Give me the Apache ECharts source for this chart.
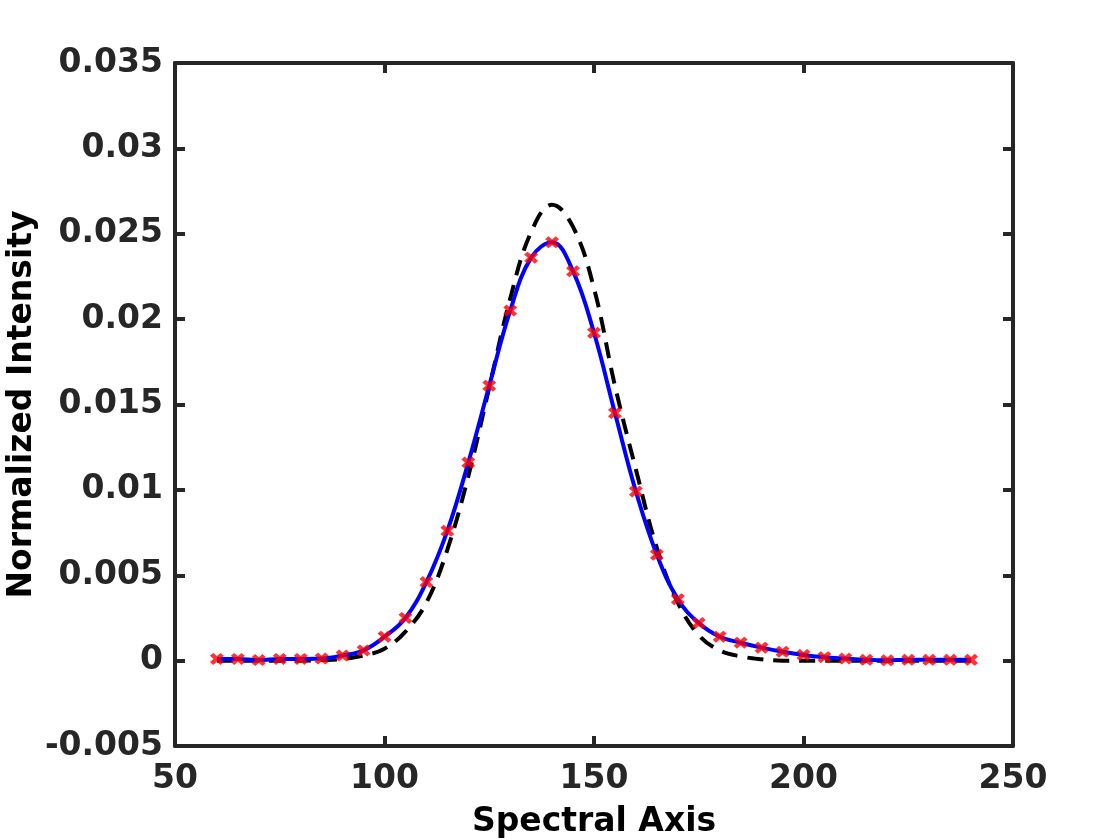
<!DOCTYPE html>
<html>
<head>
<meta charset="utf-8">
<script src="https://cdn.jsdelivr.net/npm/echarts@6/dist/echarts.min.js"></script>
<style>
  html, body { margin: 0; padding: 0; background: #fff; }
  #chart { width: 1120px; height: 840px; }
</style>
</head>
<body>
<div id="chart"></div>
<script>
// sample positions on the spectral axis
var spectralX = [60, 65, 70, 75, 80, 85, 90, 95, 100, 105, 110, 115, 120, 125, 130, 135, 140,
    145, 150, 155, 160, 165, 170, 175, 180, 185, 190, 195, 200, 205, 210, 215, 220, 225, 230, 235, 240];

// blue solid curve (red x markers sit on the same samples)
var measured = [0.0001, 0.0001, 0.00003, 0.0001, 0.0001, 0.00012, 0.0003, 0.0006, 0.0014, 0.0025,
    0.0046, 0.0076, 0.0116, 0.0161, 0.0205, 0.0236, 0.0245, 0.0228, 0.0192, 0.0145, 0.0099, 0.0062,
    0.0036, 0.0022, 0.0014, 0.00105, 0.00076, 0.00052, 0.00033, 0.0002, 0.00012, 0.00005, 0.00002,
    0.00005, 0.00005, 0.00005, 0.00005];

// black dashed curve
var reference = [0, 0, 0, 0, 0, 0.00003, 0.0001, 0.0003, 0.0007, 0.0017, 0.0034, 0.0065, 0.0108,
    0.0160, 0.0212, 0.0251, 0.0267, 0.0254, 0.0218, 0.0161, 0.0112, 0.0066, 0.0034, 0.0015, 0.0006,
    0.00025, 0.00008, 0, 0, 0, 0, 0, 0, 0, 0, 0, 0];

var xTicks = ['50', '100', '150', '200', '250'];
var yTicks = ['-0.005', '0', '0.005', '0.01', '0.015', '0.02', '0.025', '0.03', '0.035'];

function pairs (xs, ys) {
    return xs.map(function (x, i) { return [x, ys[i]]; });
}

var axisColor = '#262626';
var tickFont = {
    fontFamily: 'DejaVu Sans',
    fontWeight: 'bold',
    fontSize: 33,
    color: axisColor
};

function boxAxis (pos, isX) {
    return {
        type: 'value',
        position: pos,
        min: isX ? 50 : -0.005,
        max: isX ? 250 : 0.035,
        interval: isX ? 50 : 0.005,
        axisLine: { show: true, onZero: false, lineStyle: { color: axisColor, width: 4 } },
        axisTick: { show: true, inside: true, length: 10, lineStyle: { color: axisColor, width: 4 } },
        axisLabel: { show: false },
        splitLine: { show: false }
    };
}

var xBottom = boxAxis('bottom', true);
xBottom.name = 'Spectral Axis';
xBottom.nameLocation = 'middle';
xBottom.nameGap = 60;
xBottom.nameMoveOverlap = false;
xBottom.nameTextStyle = { fontFamily: 'DejaVu Sans', fontWeight: 'bold', fontSize: 33, color: '#000' };
xBottom.axisLabel = Object.assign({ show: true, margin: 17, formatter: function (v) {
    return xTicks[Math.round((v - 50) / 50)];
} }, tickFont);

var yLeft = boxAxis('left', false);
yLeft.name = 'Normalized Intensity';
yLeft.nameLocation = 'middle';
yLeft.nameGap = 136;
yLeft.nameMoveOverlap = false;
yLeft.nameTextStyle = { fontFamily: 'DejaVu Sans', fontWeight: 'bold', fontSize: 33, color: '#000' };
yLeft.axisLabel = Object.assign({ show: true, margin: 12, formatter: function (v) {
    return yTicks[Math.round((v + 0.005) / 0.005)];
} }, tickFont);

var chartobj = echarts.init(document.getElementById('chart'));
var option = {
    backgroundColor: '#fff',
    animation: false,
    grid: { left: 175, right: 107, top: 63, bottom: 94, containLabel: false, outerBoundsMode: 'none' },
    xAxis: [xBottom, boxAxis('top', true)],
    yAxis: [yLeft, boxAxis('right', false)],
    series: [
        {
            name: 'reference',
            type: 'line',
            data: pairs(spectralX, reference),
            smooth: 0.4,
            showSymbol: false,
            symbol: 'none',
            lineStyle: { color: '#000', width: 4, type: [16, 10] },
            z: 2
        },
        {
            name: 'measured',
            type: 'line',
            data: pairs(spectralX, measured),
            smooth: 0.4,
            symbol: 'none',
            lineStyle: { color: '#0000ff', width: 4 },
            z: 3
        },
        {
            name: 'samples',
            type: 'scatter',
            data: pairs(spectralX, measured),
            symbol: 'path://M0,2.4L2.4,0L5,2.6L7.6,0L10,2.4L7.4,5L10,7.6L7.6,10L5,7.4L2.4,10L0,7.6L2.6,5Z',
            symbolSize: [14, 12],
            itemStyle: { color: '#ff0000' },
            z: 4
        }
    ]
};
chartobj.setOption(option);
</script>
</body>
</html>
